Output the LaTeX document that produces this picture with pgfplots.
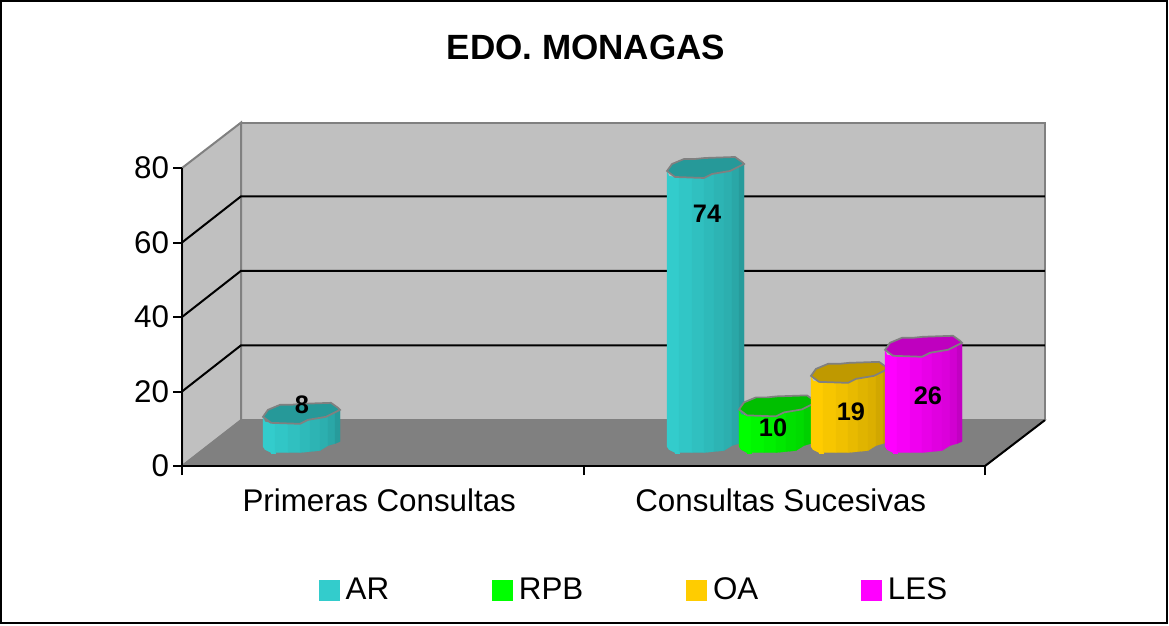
\documentclass[border=0pt]{standalone}
\usepackage{fontspec}
\setmainfont{Liberation Sans}
\usepackage{pgfplots}
\pgfplotsset{compat=1.18}
\definecolor{arc}{HTML}{33CCCC}
\definecolor{rpbc}{HTML}{00FF00}
\definecolor{oac}{HTML}{FFCC00}
\definecolor{lesc}{HTML}{FF00FF}
\definecolor{wall}{HTML}{C0C0C0}
\definecolor{floorc}{HTML}{808080}
% one vertical facet of a column: left px, value, colour, shade, dx1 bot1 dx2 bot2 top2 top1 (pixel offsets of the outline)
\newcommand{\Strip}[9]{%
  \pgfmathsetmacro{\xa}{(#1+#5-182)/401.5}%
  \pgfmathsetmacro{\xb}{(#1+#7-182)/401.5}%
  \pgfmathsetmacro{\ya}{5.2-#6/3.725}%
  \pgfmathsetmacro{\yb}{5.2-#8/3.725}%
  \StripB{#2}{#3}{#4}{#9}%
}
\newcommand{\StripB}[4]{\def\sv{#1}\def\sc{#2}\def\ss{#3}\def\st{#4}\StripC}
\newcommand{\StripC}[1]{%
  \pgfmathsetmacro{\yc}{5.2+\sv-\st/3.725}%
  \pgfmathsetmacro{\yd}{5.2+\sv-#1/3.725}%
  \edef\tmp{\noexpand\addplot[fill=\sc!\ss!black,draw=\sc!\ss!black,line width=0.1pt,forget plot] coordinates {(\xa,\ya)(\xb,\yb)(\xb,\yc)(\xa,\yd)} --cycle;}\tmp
}
\newcommand{\TopFace}[3]{%
  \def\pts{}%
  \foreach \dx/\dy in {0/0,5/-7,17/-12,28/-12,38/-13,68/-14,75/-9,77/-7,63/0,45/3,37/7,8/6}{%
    \pgfmathsetmacro{\px}{(#1+\dx-182)/401.5}%
    \pgfmathsetmacro{\py}{5.2+#2-\dy/3.725}%
    \xdef\pts{\pts(\px,\py)}%
  }%
  \edef\tmp{\noexpand\addplot[fill=#3!75!black,draw=floorc,line width=1.3pt,forget plot] coordinates {\pts} --cycle;}\tmp
}
\newcommand{\Column}[3]{%
  \Strip{#1}{#2}{#3}{100}{0}{0}{2}{3}{5}{0}%
  \Strip{#1}{#2}{#3}{100}{2}{3}{8}{6}{6}{5}%
  \Strip{#1}{#2}{#3}{100}{8}{6}{12}{6}{6}{6}%
  \Strip{#1}{#2}{#3}{97}{12}{6}{25}{6}{6.5}{6}%
  \Strip{#1}{#2}{#3}{94}{25}{6}{37}{6}{7}{6.5}%
  \Strip{#1}{#2}{#3}{91}{37}{6}{47}{5}{3}{7}%
  \Strip{#1}{#2}{#3}{88}{47}{5}{57}{4}{1}{3}%
  \Strip{#1}{#2}{#3}{86}{57}{4}{65}{-1}{-1}{1}%
  \Strip{#1}{#2}{#3}{82}{65}{-1}{72}{-3}{-4}{-1}%
  \Strip{#1}{#2}{#3}{76}{72}{-3}{77}{-5}{-7}{-4}%
  \TopFace{#1}{#2}{#3}%
}
\tikzset{lbl/.style={font=\fontsize{19}{19}\selectfont\bfseries,text=black,inner sep=0pt}}
\newcommand{\swatch}[1]{\fill[#1] (0pt,-8.1pt) rectangle (15.75pt,7.65pt);}
\begin{document}
\begin{tikzpicture}
\path[use as bounding box] (0,0) rectangle (876.75pt,468.75pt);
\draw[line width=1.5pt,black] (0.75pt,1.75pt) rectangle (875.25pt,468pt);
\node[font=\fontsize{26.3}{26.3}\selectfont\bfseries,anchor=center] at (439.5pt,433.5pt) {EDO. MONAGAS};
\begin{axis}[
  at={(136.5pt,119.25pt)},anchor=south west,
  scale only axis,width=602.25pt,height=223.5pt,
  xmin=0,xmax=2,ymin=0,ymax=80,
  clip=false,axis on top,
  axis x line=bottom,axis y line=left,
  axis line style={-,line width=1.5pt,black},
  every tick/.style={black,line width=1.5pt},
  tick align=outside,major tick length=6.75pt,
  xtick={0,1,2},xticklabels={Primeras Consultas,Consultas Sucesivas},
  x tick label as interval,
  ytick={0,20,40,60,80},
  /pgf/number format/assume math mode=true,
  tick label style={font=\fontsize{23.5}{23.5}\selectfont,black},
  xticklabel style={yshift=-6.5pt,xshift=-2.6pt},
  yticklabel style={xshift=0.5pt},
  legend columns=4,
  legend style={at={(0.5616,-0.4162)},anchor=center,draw=none,fill=none,
    font=\fontsize{23.5}{23.5}\selectfont,inner sep=0pt,
    nodes={inner sep=0pt},
    /tikz/every even column/.append style={column sep=77pt},
    /tikz/every odd column/.append style={column sep=4.5pt}},
]
% walls and floor
\addplot[fill=wall,draw=floorc,line width=1.5pt,forget plot] coordinates {(0.147,12.3)(2.149,12.3)(2.149,92.2)(0.147,92.2)} --cycle;
\addplot[fill=wall,draw=floorc,line width=1.5pt,forget plot] coordinates {(0,0)(0.147,12.3)(0.147,92.2)(0,80)} --cycle;
\addplot[fill=floorc,draw=floorc,line width=1pt,forget plot] coordinates {(0,0)(2,0)(2.149,12.3)(0.147,12.3)} --cycle;
\addplot[black,line width=1.5pt,forget plot] coordinates {(2,0)(2.149,12.3)};
% gridlines
\addplot[black,line width=1.5pt,forget plot] coordinates {(0,20)(0.147,32.4)(2.149,32.4)};
\addplot[black,line width=1.5pt,forget plot] coordinates {(0,40)(0.147,52.4)(2.149,52.4)};
\addplot[black,line width=1.5pt,forget plot] coordinates {(0,60)(0.147,72.4)(2.149,72.4)};
% series values, which carry the legend
\addplot[draw=none,no markers,legend image code/.code={\swatch{arc}}] coordinates {(0.5,8)(1.5,74)};
\addlegendentry{AR}
\addplot[draw=none,no markers,legend image code/.code={\swatch{rpbc}}] coordinates {(1.5,10)};
\addlegendentry{RPB}
\addplot[draw=none,no markers,legend image code/.code={\swatch{oac}}] coordinates {(1.5,19)};
\addlegendentry{OA}
\addplot[draw=none,no markers,legend image code/.code={\swatch{lesc}}] coordinates {(1.5,26)};
\addlegendentry{LES}
% columns
\Column{263}{8}{arc}
\Column{667}{74}{arc}
\Column{739}{10}{rpbc}
\Column{811}{19}{oac}
\Column{885}{26}{lesc}
% data labels
\node[lbl] at (axis cs:0.2989,16.38) {8};
\node[lbl] at (axis cs:1.3076,67.65) {74};
\node[lbl] at (axis cs:1.472,10.2) {10};
\node[lbl] at (axis cs:1.666,14.5) {19};
\node[lbl] at (axis cs:1.858,18.8) {26};
\end{axis}
\end{tikzpicture}
\end{document}
